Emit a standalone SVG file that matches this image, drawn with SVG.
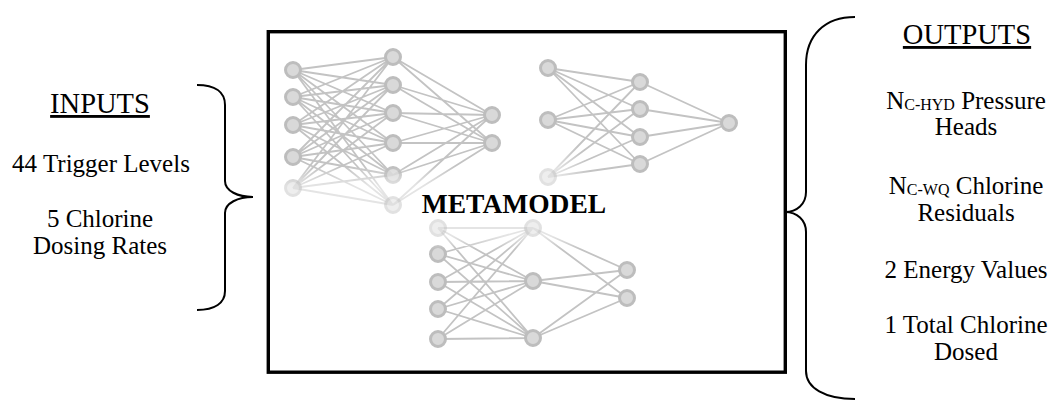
<svg xmlns="http://www.w3.org/2000/svg" width="1057" height="401" viewBox="0 0 1057 401">
  <style>
    .lbl { font-family: "Liberation Serif", "Times New Roman", serif; font-size: 25px; fill: #000; text-anchor: middle; }
    .head { font-size: 28.5px; text-decoration: underline; }
    .sub { font-size: 16px; }
    .title { font-family: "Liberation Serif", "Times New Roman", serif; font-size: 27.5px; font-weight: bold; fill: #000; text-anchor: middle; }
    .brace { fill: none; stroke: #000; stroke-width: 2; }
    .frame { fill: #fff; stroke: #000; stroke-width: 3.4; }
    .edge { stroke: #c3c3c3; stroke-width: 1.8; fill: none; }
    .node circle { fill: #d9d9d9; stroke: #bdbdbd; stroke-width: 3; }
  </style>
  <defs>
    <!-- soft fades over parts of the three networks -->
    <linearGradient id="fadeLow1" gradientUnits="userSpaceOnUse" x1="0" y1="166" x2="0" y2="186">
      <stop offset="0" stop-color="#fff" stop-opacity="1"/>
      <stop offset="1" stop-color="#fff" stop-opacity="0.45"/>
    </linearGradient>
    <radialGradient id="fadeCorner2" gradientUnits="userSpaceOnUse" cx="548" cy="177" r="42">
      <stop offset="0.25" stop-color="#fff" stop-opacity="0.45"/>
      <stop offset="1" stop-color="#fff" stop-opacity="1"/>
    </radialGradient>
    <linearGradient id="fadeTop3" gradientUnits="userSpaceOnUse" x1="0" y1="236" x2="0" y2="249">
      <stop offset="0" stop-color="#fff" stop-opacity="0.45"/>
      <stop offset="1" stop-color="#fff" stop-opacity="1"/>
    </linearGradient>
    <mask id="m1" maskUnits="userSpaceOnUse" x="270" y="33" width="260" height="200">
      <rect x="270" y="33" width="260" height="200" fill="url(#fadeLow1)"/>
    </mask>
    <mask id="m2" maskUnits="userSpaceOnUse" x="520" y="50" width="230" height="150">
      <rect x="520" y="50" width="230" height="150" fill="url(#fadeCorner2)"/>
    </mask>
    <mask id="m3" maskUnits="userSpaceOnUse" x="410" y="210" width="240" height="150">
      <rect x="410" y="210" width="240" height="150" fill="url(#fadeTop3)"/>
    </mask>
  </defs>

  <rect width="1057" height="401" fill="#fff"/>

  <!-- metamodel frame -->
  <g id="metamodel">
    <rect class="frame" x="268.3" y="31.7" width="517" height="340.5"/>
  </g>

  <!-- connectors -->
  <g id="connectors">
    <g id="net1-edges" class="edge" mask="url(#m1)">
      <!-- inputs to hidden -->
      <path d="M293,70 L393,57 M293,70 L393,85 M293,70 L393,113 M293,70 L393,143 M293,70 L393,175 M293,70 L393,205
               M293,97 L393,57 M293,97 L393,85 M293,97 L393,113 M293,97 L393,143 M293,97 L393,175 M293,97 L393,205
               M293,125 L393,57 M293,125 L393,85 M293,125 L393,113 M293,125 L393,143 M293,125 L393,175 M293,125 L393,205
               M293,157 L393,57 M293,157 L393,85 M293,157 L393,113 M293,157 L393,143 M293,157 L393,175 M293,157 L393,205
               M293,188 L393,57 M293,188 L393,85 M293,188 L393,113 M293,188 L393,143 M293,188 L393,175 M293,188 L393,205"/>
      <!-- hidden to outputs -->
      <path d="M393,57 L492,115 M393,57 L492,143 M393,85 L492,115 M393,85 L492,143
               M393,113 L492,115 M393,113 L492,143 M393,143 L492,115 M393,143 L492,143
               M393,175 L492,115 M393,175 L492,143 M393,205 L492,115 M393,205 L492,143"/>
    </g>
    <g id="net2-edges" class="edge" mask="url(#m2)">
      <path d="M548,68 L640,82 M548,68 L640,109 M548,68 L640,137 M548,68 L640,164
               M548,120 L640,82 M548,120 L640,109 M548,120 L640,137 M548,120 L640,164
               M548,177 L640,82 M548,177 L640,109 M548,177 L640,137 M548,177 L640,164"/>
      <path d="M640,82 L729,123 M640,109 L729,123 M640,137 L729,123 M640,164 L729,123"/>
    </g>
    <g id="net3-edges" class="edge" mask="url(#m3)">
      <path d="M438,228 L533,228 M438,228 L533,281 M438,228 L533,338
               M438,254 L533,228 M438,254 L533,281 M438,254 L533,338
               M438,282 L533,228 M438,282 L533,281 M438,282 L533,338
               M438,309 L533,228 M438,309 L533,281 M438,309 L533,338
               M438,339 L533,228 M438,339 L533,281 M438,339 L533,338"/>
      <path d="M533,228 L627,270 M533,228 L627,298 M533,281 L627,270 M533,281 L627,298
               M533,338 L627,270 M533,338 L627,298"/>
    </g>
  </g>

  <!-- network 1 nodes -->
  <g id="n1-in1" class="node" mask="url(#m1)"><circle cx="293" cy="70" r="7.5"/></g>
  <g id="n1-in2" class="node" mask="url(#m1)"><circle cx="293" cy="97" r="7.5"/></g>
  <g id="n1-in3" class="node" mask="url(#m1)"><circle cx="293" cy="125" r="7.5"/></g>
  <g id="n1-in4" class="node" mask="url(#m1)"><circle cx="293" cy="157" r="7.5"/></g>
  <g id="n1-in5" class="node" mask="url(#m1)"><circle cx="293" cy="188" r="7.5"/></g>
  <g id="n1-h1" class="node" mask="url(#m1)"><circle cx="393" cy="57" r="7.5"/></g>
  <g id="n1-h2" class="node" mask="url(#m1)"><circle cx="393" cy="85" r="7.5"/></g>
  <g id="n1-h3" class="node" mask="url(#m1)"><circle cx="393" cy="113" r="7.5"/></g>
  <g id="n1-h4" class="node" mask="url(#m1)"><circle cx="393" cy="143" r="7.5"/></g>
  <g id="n1-h5" class="node" mask="url(#m1)"><circle cx="393" cy="175" r="7.5"/></g>
  <g id="n1-h6" class="node" mask="url(#m1)"><circle cx="393" cy="205" r="7.5"/></g>
  <g id="n1-out1" class="node" mask="url(#m1)"><circle cx="492" cy="115" r="7.5"/></g>
  <g id="n1-out2" class="node" mask="url(#m1)"><circle cx="492" cy="143" r="7.5"/></g>

  <!-- network 2 nodes -->
  <g id="n2-in1" class="node" mask="url(#m2)"><circle cx="548" cy="68" r="7.5"/></g>
  <g id="n2-in2" class="node" mask="url(#m2)"><circle cx="548" cy="120" r="7.5"/></g>
  <g id="n2-in3" class="node" mask="url(#m2)"><circle cx="548" cy="177" r="7.5"/></g>
  <g id="n2-h1" class="node" mask="url(#m2)"><circle cx="640" cy="82" r="7.5"/></g>
  <g id="n2-h2" class="node" mask="url(#m2)"><circle cx="640" cy="109" r="7.5"/></g>
  <g id="n2-h3" class="node" mask="url(#m2)"><circle cx="640" cy="137" r="7.5"/></g>
  <g id="n2-h4" class="node" mask="url(#m2)"><circle cx="640" cy="164" r="7.5"/></g>
  <g id="n2-out1" class="node" mask="url(#m2)"><circle cx="729" cy="123" r="7.5"/></g>

  <!-- network 3 nodes -->
  <g id="n3-in1" class="node" mask="url(#m3)"><circle cx="438" cy="228" r="7.5"/></g>
  <g id="n3-in2" class="node" mask="url(#m3)"><circle cx="438" cy="254" r="7.5"/></g>
  <g id="n3-in3" class="node" mask="url(#m3)"><circle cx="438" cy="282" r="7.5"/></g>
  <g id="n3-in4" class="node" mask="url(#m3)"><circle cx="438" cy="309" r="7.5"/></g>
  <g id="n3-in5" class="node" mask="url(#m3)"><circle cx="438" cy="339" r="7.5"/></g>
  <g id="n3-h1" class="node" mask="url(#m3)"><circle cx="533" cy="228" r="7.5"/></g>
  <g id="n3-h2" class="node" mask="url(#m3)"><circle cx="533" cy="281" r="7.5"/></g>
  <g id="n3-h3" class="node" mask="url(#m3)"><circle cx="533" cy="338" r="7.5"/></g>
  <g id="n3-out1" class="node" mask="url(#m3)"><circle cx="627" cy="270" r="7.5"/></g>
  <g id="n3-out2" class="node" mask="url(#m3)"><circle cx="627" cy="298" r="7.5"/></g>

  <g id="metamodel-label">
    <text class="title" x="514" y="213">METAMODEL</text>
  </g>

  <!-- inputs -->
  <g id="inputs">
    <text class="lbl head" x="100" y="113">INPUTS</text>
    <text class="lbl" x="101" y="172">44 Trigger Levels</text>
    <text class="lbl" x="100" y="227">5 Chlorine</text>
    <text class="lbl" x="100" y="254">Dosing Rates</text>
    <path class="brace" d="M197,85 C215,85 225,92 225,105 L225,181 C225,191 238,197 253,197 C238,197 225,203 225,213 L225,291 C225,303 215,310 197,310"/>
  </g>

  <!-- outputs -->
  <g id="outputs">
    <path class="brace" d="M855,17 C825,17 806,35 806,65 L806,192 C806,204 797,212 785,212 C797,212 806,220 806,232 L806,371 C806,388 825,399 855,399"/>
    <text class="lbl head" x="967" y="44">OUTPUTS</text>
    <text class="lbl" x="966" y="109">N<tspan class="sub" dy="1">C-HYD</tspan><tspan dy="-1"> Pressure</tspan></text>
    <text class="lbl" x="966" y="135">Heads</text>
    <text class="lbl" x="966" y="194">N<tspan class="sub" dy="1">C-WQ</tspan><tspan dy="-1"> Chlorine</tspan></text>
    <text class="lbl" x="966" y="221">Residuals</text>
    <text class="lbl" x="966" y="278">2 Energy Values</text>
    <text class="lbl" x="966" y="333">1 Total Chlorine</text>
    <text class="lbl" x="966" y="360">Dosed</text>
  </g>
</svg>
